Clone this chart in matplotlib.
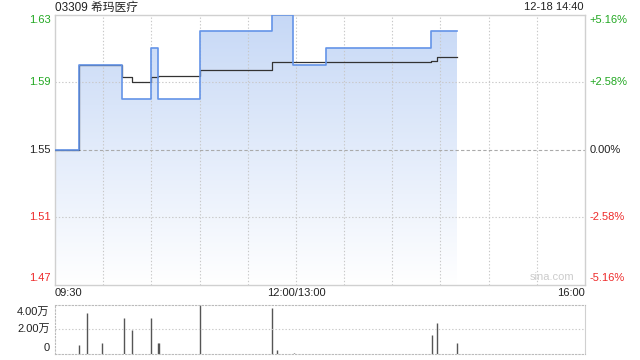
import numpy as np
import matplotlib.pyplot as plt
from matplotlib.colors import LinearSegmentedColormap
from matplotlib.transforms import blended_transform_factory

plt.rcParams['font.family'] = ['Liberation Sans', 'Noto Sans CJK SC']

# minutes since 09:30 (lunch break skipped: 12:00 -> 150, 16:00 -> 330)
price_t = [0, 15, 42, 60, 64, 90, 135, 148, 169, 234, 250]
price_v = [1.55, 1.60, 1.58, 1.61, 1.58, 1.62, 1.63, 1.60, 1.61, 1.62, 1.62]

avg_t = [0, 15, 42, 48, 60, 64, 90, 135, 234, 238, 250]
avg_v = [1.55, 1.60, 1.5928, 1.590, 1.593, 1.5935, 1.597, 1.6017, 1.6024, 1.6048, 1.6048]

vol_t = [15, 20, 29, 43, 48, 60, 64, 65, 90, 135, 138, 149, 235, 238, 250]
vol_v = [7300, 33600, 9200, 29500, 19800, 29500, 9200, 9200, 40000, 37400, 3300, 800,
         15400, 25200, 8900]

prev_close = 1.55
y_ticks = [1.63, 1.59, 1.55, 1.51, 1.47]
pct_labels = ['+5.16%', '+2.58%', '0.00%', '-2.58%', '-5.16%']
tick_colors = ['#22a822', '#22a822', '#222222', '#ee2b2b', '#ee2b2b']
vol_ticks = [40000, 20000, 0]
vol_labels = ['4.00万', '2.00万', '0']

grid_c = '#c8c8c8'
dot = (0, (1.2, 1.8))

fig = plt.figure(figsize=(6.4, 3.6), dpi=100)
ax = fig.add_axes([55 / 640, 75 / 360, 530 / 640, 270.5 / 360])
ax2 = fig.add_axes([55 / 640, 6 / 360, 530 / 640, 49.3 / 360])

# gradient fill under the price line
cmap = LinearSegmentedColormap.from_list('fill', ['#ffffff', '#c6d8f6'])
grad = np.linspace(0, 1, 256).reshape(-1, 1)
im = ax.imshow(grad, extent=[0, 330, 1.47, 1.63], aspect='auto', cmap=cmap,
               origin='lower', zorder=1)
poly = ax.fill_between(price_t, price_v, 1.47, step='post', facecolor='none',
                       edgecolor='none')
im.set_clip_path(poly.get_paths()[0], ax.transData)

for x in range(30, 330, 30):
    ax.axvline(x, color=grid_c, lw=0.8, ls=dot, zorder=2)
for y in [1.59, 1.51]:
    ax.axhline(y, color=grid_c, lw=0.8, ls=dot, zorder=2)
ax.axhline(prev_close, color='#aaaaaa', lw=0.8, ls=(0, (3, 2)), zorder=2)

ax.plot(avg_t, avg_v, drawstyle='steps-post', color='#333333', lw=0.9, zorder=3)
ax.plot(price_t, price_v, drawstyle='steps-post', color='#6494e8', lw=1.2, zorder=4)

ax.set_xlim(0, 330)
ax.set_ylim(1.47, 1.63)
ax.set_xticks([])
ax.set_yticks([])
for s in ax.spines.values():
    s.set_color('#d0d0d0')
    s.set_linewidth(1)

# edge labels sit a little inside the plot area
lab_frac = [1 - 5.5 / 270.5, None, None, None, 7 / 270.5]
for v, pl, c, f in zip(y_ticks, pct_labels, tick_colors, lab_frac):
    if f is None:
        tr = blended_transform_factory(ax.transAxes, ax.transData)
        yy = v
    else:
        tr = ax.transAxes
        yy = f
    ax.text(-0.008, yy, f'{v:.2f}', transform=tr, ha='right', va='center',
            fontsize=8, color=c)
    ax.text(1.009, yy, pl, transform=tr, ha='left', va='center', fontsize=8, color=c)

ax.text(0, -0.028, '09:30', transform=ax.transAxes, ha='left', va='center',
        fontsize=8, color='#222222')
ax.text(150 / 330, -0.028, '12:00/13:00', transform=ax.transAxes, ha='center',
        va='center', fontsize=8, color='#222222')
ax.text(1, -0.028, '16:00', transform=ax.transAxes, ha='right', va='center',
        fontsize=8, color='#222222')
ax.text(0.98, 0.01, 'sina.com', transform=ax.transAxes, ha='right', va='bottom',
        fontsize=8, color='#cccccc')

fig.text(55 / 640, 1 - 7.5 / 360, '03309 希玛医疗', ha='left', va='center',
         fontsize=8.5, color='#222222')
fig.text(584 / 640, 1 - 7.5 / 360, '12-18 14:40', ha='right', va='center',
         fontsize=8, color='#222222')

# volume panel
ax2.vlines(vol_t, 0, vol_v, color='#555555', lw=1)
ax2.axhline(20000, color=grid_c, lw=0.8, ls=dot)
ax2.set_xlim(0, 330)
ax2.set_ylim(0, 40000)
ax2.set_xticks([])
ax2.set_yticks([])
for k, s in ax2.spines.items():
    s.set_color('#bbbbbb')
    s.set_linewidth(0.8)
    if k != 'right':
        s.set_linestyle(dot)
ax2.spines['right'].set_color('#d0d0d0')
vol_lab_frac = [1 - 7.3 / 49.3, 25 / 49.3, 6 / 49.3]
for f, lb in zip(vol_lab_frac, vol_labels):
    ax2.text(-0.01, f, lb, transform=ax2.transAxes, ha='right', va='center',
             fontsize=8, color='#222222')

fig.savefig('out.png', dpi=100)
